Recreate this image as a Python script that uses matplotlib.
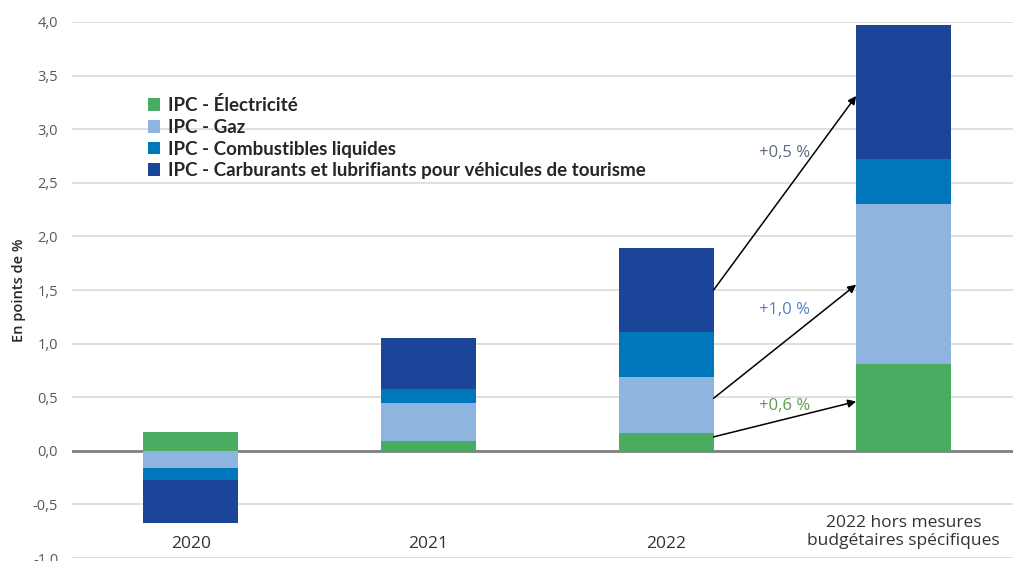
import numpy as np
import matplotlib.pyplot as plt

# Contributions à l'inflation (points de %)
categories = ["2020", "2021", "2022", "2022 hors mesures\nbudgétaires spécifiques"]
series_names = ["IPC - Électricité", "IPC - Gaz", "IPC - Combustibles liquides",
                "IPC - Carburants et lubrifiants pour véhicules de tourisme"]
electricite = [0.18, 0.09, 0.17, 0.81]
gaz = [-0.16, 0.36, 0.52, 1.49]
combustibles = [-0.11, 0.13, 0.42, 0.42]
carburants = [-0.40, 0.47, 0.78, 1.25]
colors = ["#4AAC60", "#8DB5E0", "#0077BB", "#1A4599"]

# flèches 2022 -> 2022 hors mesures
arrow_starts = [0.13, 0.49, 1.50]
arrow_ends = [0.46, 1.55, 3.31]
arrow_labels = ["+0,6 %", "+1,0 %", "+0,5 %"]
label_y = [0.42, 1.31, 2.78]
label_colors = ["#5F9A4F", "#4F81C7", "#5B6B84"]

plt.rcParams["font.family"] = ["Open Sans", "DejaVu Sans"]

fig = plt.figure(figsize=(10.13, 5.61), dpi=100)
ax = fig.add_axes([0.0711, 0.0053, 0.9289, 0.9555])

x = np.arange(len(categories))
pos_bottom = np.zeros(len(categories))
neg_bottom = np.zeros(len(categories))
for name, vals, c in zip(series_names, [electricite, gaz, combustibles, carburants], colors):
    vals = np.array(vals)
    bottom = np.where(vals >= 0, pos_bottom, neg_bottom)
    ax.bar(x, vals, width=0.4, bottom=bottom, color=c, label=name, zorder=3)
    pos_bottom += np.clip(vals, 0, None)
    neg_bottom += np.clip(vals, None, 0)

for y0, y1, txt, ty, tc in zip(arrow_starts, arrow_ends, arrow_labels, label_y, label_colors):
    ax.annotate("", xy=(2.8, y1), xytext=(2.2, y0),
                arrowprops=dict(arrowstyle="-|>", color="black", lw=1.1,
                                mutation_scale=12, shrinkA=0, shrinkB=0), zorder=4)
    ax.text(2.5, ty, txt, color=tc, fontsize=12, ha="center", va="center", zorder=5)

# étiquettes de catégories dans la zone du graphique
for xi, cat in zip(x, categories):
    ax.text(xi, -0.76 if "\n" in cat else -0.87, cat, ha="center", va="center",
            fontsize=12.5, color="#333333", linespacing=1.2)

ax.set_xlim(-0.5, 3.46)
ax.set_ylim(-1.0, 4.0)
ax.set_yticks(np.arange(-1.0, 4.01, 0.5))
ax.set_yticklabels([f"{v:.1f}".replace(".", ",") for v in np.arange(-1.0, 4.01, 0.5)])
ax.set_xticks([])
ax.grid(axis="y", color="#D9D9D9", lw=1.2, zorder=0)
ax.axhline(0, color="#808080", lw=2, zorder=2)
for s in ax.spines.values():
    s.set_visible(False)
ax.tick_params(axis="y", length=0, labelsize=10.5, labelcolor="#595959", pad=10)
ax.set_ylabel("En points de %", fontsize=10.5, color="#262626", labelpad=5,
              fontweight="semibold")

leg = ax.legend(loc="upper left", bbox_to_anchor=(0.063, 0.893), frameon=False,
                handlelength=0.65, handleheight=0.65, handletextpad=0.4,
                labelspacing=0.25, prop={"family": ["Lato", "DejaVu Sans"],
                                         "weight": "bold", "size": 13.5})
for t in leg.get_texts():
    t.set_color("#262626")

fig.savefig("out.png", dpi=100)
